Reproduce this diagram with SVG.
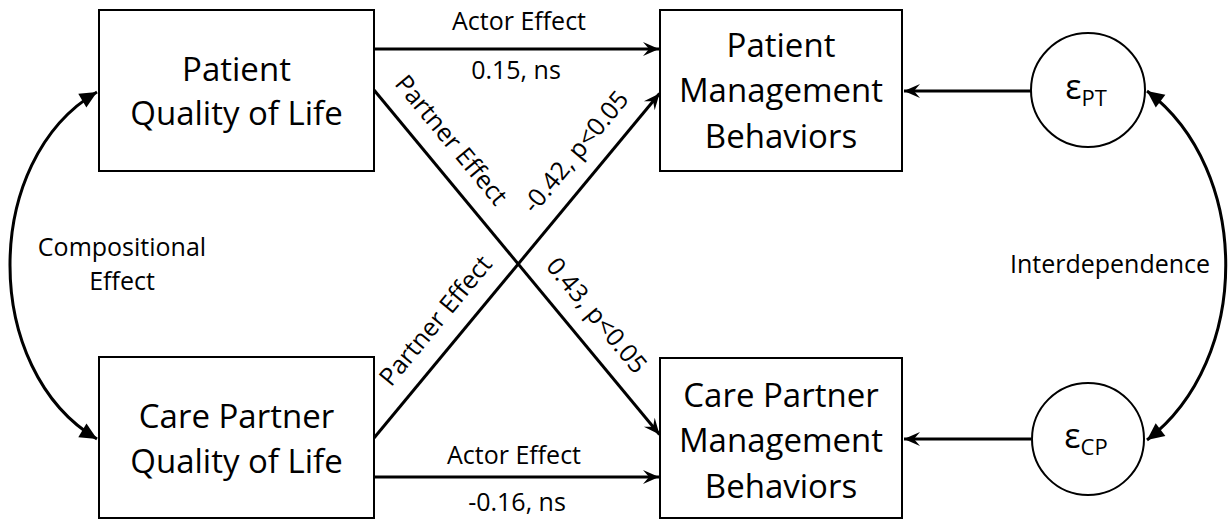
<svg xmlns="http://www.w3.org/2000/svg" width="1230" height="519" viewBox="0 0 1230 519">
<style>
.box{fill:#fff;stroke:#000;stroke-width:2}
.circ{fill:#fff;stroke:#000;stroke-width:2}
.big{font-family:"Open Sans","Liberation Sans",sans-serif;font-size:33px;fill:#000;text-anchor:middle}
.lbl{font-family:"Open Sans","Liberation Sans",sans-serif;font-size:25px;fill:#000;text-anchor:middle}
.eps{font-family:"Open Sans","Liberation Sans",sans-serif;font-size:34px;fill:#000;text-anchor:middle}
.arr{fill:none;stroke:#000;stroke-width:3;marker-end:url(#ah)}
.curve{fill:none;stroke:#000;stroke-width:3;marker-start:url(#tri);marker-end:url(#tri)}
</style>
<defs>
<marker id="ah" markerUnits="userSpaceOnUse" viewBox="-17 -8 18 16" refX="0" refY="0" markerWidth="18" markerHeight="16" orient="auto">
<path d="M0,0 L-16,-7 L-10,0 L-16,7 Z" fill="#000"/>
</marker>
<marker id="tri" markerUnits="userSpaceOnUse" viewBox="-18 -9 19 18" refX="0" refY="0" markerWidth="19" markerHeight="18" orient="auto-start-reverse">
<path d="M0,0 L-17,-8 L-17,8 Z" fill="#000"/>
</marker>
</defs>
<g id="connectors">
<line class="arr" x1="375" y1="49" x2="659" y2="49"/>
<line class="arr" x1="375" y1="477" x2="659" y2="477"/>
<line class="arr" x1="374" y1="90" x2="659.5" y2="434.5"/>
<line class="arr" x1="374" y1="438" x2="659.5" y2="93.5"/>
<line class="arr" x1="1031" y1="91" x2="904" y2="91"/>
<line class="arr" x1="1031" y1="439" x2="904" y2="439"/>
<path class="curve" d="M97,92 C-19,160 -19,370 97,439"/>
<path class="curve" d="M1147,91 C1252,170 1252,360 1147,440"/>
<text class="lbl" x="519" y="30">Actor Effect</text>
<text class="lbl" x="516" y="79">0.15, ns</text>
<text class="lbl" x="514" y="464">Actor Effect</text>
<text class="lbl" x="517" y="511">-0.16, ns</text>
<text class="lbl" transform="translate(444.8,145.6) rotate(50.33)">Partner Effect</text>
<text class="lbl" transform="translate(590.1,320.9) rotate(50.33)">0.43, p&lt;0.05</text>
<text class="lbl" transform="translate(442.1,326.2) rotate(-50.33)">Partner Effect</text>
<text class="lbl" transform="translate(582.2,157.2) rotate(-50.33)">-0.42, p&lt;0.05</text>
<text class="lbl" x="122" y="256">Compositional</text>
<text class="lbl" x="122" y="290">Effect</text>
<text class="lbl" x="1110" y="273">Interdependence</text>
</g>
<g id="patient-qol">
<rect class="box" x="99" y="10" width="275" height="161"/>
<text class="big" x="236.5" y="81">Patient</text>
<text class="big" x="236.5" y="125">Quality of Life</text>
</g>
<g id="carepartner-qol">
<rect class="box" x="99" y="357" width="275" height="161"/>
<text class="big" x="236.5" y="428">Care Partner</text>
<text class="big" x="236.5" y="473">Quality of Life</text>
</g>
<g id="patient-mb">
<rect class="box" x="660" y="10" width="242" height="161"/>
<text class="big" x="781" y="57">Patient</text>
<text class="big" x="781" y="102">Management</text>
<text class="big" x="781" y="148">Behaviors</text>
</g>
<g id="carepartner-mb">
<rect class="box" x="660" y="358" width="242" height="160"/>
<text class="big" x="781" y="407">Care Partner</text>
<text class="big" x="781" y="452">Management</text>
<text class="big" x="781" y="498">Behaviors</text>
</g>
<g id="eps-pt">
<circle class="circ" cx="1088" cy="90" r="57"/>
<text class="eps" x="1086" y="99">ε<tspan font-size="22" dy="7">PT</tspan></text>
</g>
<g id="eps-cp">
<circle class="circ" cx="1088" cy="439" r="56"/>
<text class="eps" x="1086" y="448">ε<tspan font-size="22" dy="7">CP</tspan></text>
</g>
</svg>
